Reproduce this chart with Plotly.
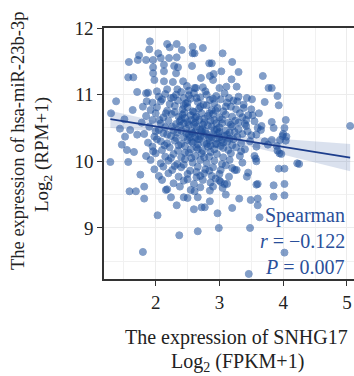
import plotly.graph_objects as go

# ---- data ----
# Core cloud: (SNHG17 log2 FPKM+1, hsa-miR-23b-3p log2 RPM+1)
core_points = [
    (1.88,11.03),(2.05,10.97),(2.15,11.01),(2.28,10.96),(2.40,11.04),(2.52,10.99),(2.60,11.02),(2.70,10.96),(2.78,11.05),(2.95,10.98),(3.08,11.02),(3.15,10.95),
    (1.95,10.88),(2.10,10.93),(2.22,10.86),(2.35,10.91),(2.47,10.87),(2.55,10.94),(2.66,10.89),(2.75,10.85),(2.85,10.92),(2.92,10.87),(3.02,10.93),(3.12,10.88),(3.22,10.91),
    (1.80,10.82),(1.92,10.77),(2.02,10.81),(2.18,10.76),(2.30,10.83),(2.42,10.78),(2.50,10.81),(2.58,10.75),(2.68,10.79),(2.80,10.84),(2.88,10.77),(2.97,10.80),(3.06,10.75),(3.18,10.82),(3.26,10.78),(3.38,10.80),
    (1.85,10.68),(2.00,10.72),(2.12,10.66),(2.25,10.71),(2.36,10.67),(2.45,10.73),(2.55,10.69),(2.62,10.65),(2.72,10.72),(2.82,10.68),(2.90,10.71),(3.00,10.66),(3.10,10.70),(3.20,10.67),(3.32,10.72),(3.45,10.69),
    (1.78,10.58),(1.95,10.62),(2.08,10.57),(2.20,10.61),(2.32,10.56),(2.40,10.63),(2.50,10.59),(2.60,10.55),(2.68,10.62),(2.76,10.58),(2.86,10.61),(2.95,10.57),(3.04,10.63),(3.14,10.58),(3.25,10.61),(3.40,10.56),(3.55,10.60),
    (1.90,10.52),(2.05,10.47),(2.15,10.51),(2.28,10.46),(2.38,10.53),(2.48,10.49),(2.56,10.45),(2.64,10.52),(2.73,10.48),(2.82,10.54),(2.92,10.47),(3.00,10.51),(3.10,10.46),(3.20,10.52),(3.30,10.48),(3.42,10.53),(3.65,10.47),
    (1.82,10.41),(1.98,10.37),(2.12,10.42),(2.24,10.38),(2.34,10.43),(2.44,10.36),(2.52,10.40),(2.62,10.44),(2.70,10.37),(2.80,10.41),(2.88,10.36),(2.98,10.42),(3.08,10.38),(3.16,10.43),(3.28,10.37),(3.36,10.41),(3.50,10.39),
    (1.88,10.28),(2.02,10.33),(2.18,10.27),(2.30,10.31),(2.40,10.26),(2.50,10.32),(2.58,10.28),(2.66,10.33),(2.76,10.27),(2.85,10.31),(2.94,10.26),(3.04,10.32),(3.12,10.29),(3.22,10.33),(3.34,10.27),(3.48,10.30),
    (1.95,10.22),(2.10,10.17),(2.22,10.21),(2.35,10.16),(2.46,10.23),(2.55,10.18),(2.64,10.21),(2.74,10.16),(2.82,10.22),(2.92,10.18),(3.02,10.23),(3.14,10.17),(3.26,10.21),(3.40,10.18),
    (1.85,10.08),(2.00,10.12),(2.15,10.07),(2.28,10.11),(2.40,10.06),(2.52,10.13),(2.62,10.08),(2.72,10.12),(2.84,10.07),(2.96,10.11),(3.06,10.06),(3.18,10.12),(3.32,10.08),
    (1.92,10.02),(2.08,9.97),(2.20,10.01),(2.34,9.96),(2.46,10.03),(2.58,9.98),(2.70,10.02),(2.80,9.97),(2.92,10.01),(3.04,9.96),(3.16,10.02),(3.36,9.98),
    (1.98,9.88),(2.12,9.92),(2.26,9.87),(2.40,9.91),(2.54,9.86),(2.66,9.92),(2.78,9.88),(2.90,9.91),(3.02,9.87),(3.20,9.90),
    (2.05,9.78),(2.20,9.82),(2.36,9.77),(2.50,9.81),(2.64,9.76),(2.76,9.82),(2.88,9.78),(3.00,9.81),(3.15,9.77),
    (2.10,9.72),(2.28,9.67),(2.44,9.71),(2.60,9.66),(2.74,9.72),(2.86,9.68),(3.00,9.71),(3.12,9.66),
    (2.18,9.58),(2.38,9.62),(2.55,9.57),(2.70,9.61),(2.85,9.56),(3.05,9.60),
    (2.46,10.65),(2.58,10.42),(2.66,10.25),(2.74,10.55),(2.84,10.35),(2.92,10.62),(3.00,10.44),(3.06,10.28),
    (2.54,10.36),(2.62,10.58),(2.78,10.45),(2.88,10.52),(2.96,10.34),(2.70,10.48),(2.52,10.55),(3.12,10.40),
    (2.40,10.46),(2.86,10.24),(2.60,10.74),(2.76,10.64),(3.18,10.55),(2.32,10.35),(2.94,10.76),(2.68,10.33),
    (2.26,10.52),(2.44,10.57),(2.64,10.67),(2.84,10.72),(3.04,10.57),(3.24,10.44),(2.36,10.24),(2.56,10.30),
    (2.76,10.38),(2.96,10.48),(3.16,10.34),(2.46,10.13),(2.66,10.18),(2.86,10.14),(3.06,10.20),(2.30,10.74),
    (2.50,10.88),(2.70,10.82),(2.90,10.94),(3.10,10.82),(2.18,10.40),(2.08,10.30),(2.24,10.05),(2.44,9.95),
    (2.64,9.84),(2.84,9.86),(3.10,9.94),(2.56,10.05),(2.76,10.06),(2.96,10.26),(3.20,10.24),(3.30,10.58),
    (3.36,10.66),(2.42,10.70),(2.56,10.62),(2.72,10.44),(2.80,10.26),(3.00,10.36),(2.90,10.41),(2.62,10.36),
    (2.48,10.42),(2.38,10.60),(2.16,10.72),(2.06,10.62),(2.00,10.45),(2.14,10.24),(1.96,10.15),(2.30,9.93),
    (2.50,9.73),(2.70,9.78),(2.94,9.74),(2.34,11.08),(2.52,11.06),(2.80,11.00),(3.00,11.10),(2.44,10.84),
    (2.64,10.95),(3.28,10.90),(3.44,10.45),(3.34,10.15),
]

# Outer, sparser points
outer_points = [
    (1.91,11.80),(2.18,11.76),(2.33,11.76),(2.41,11.67),(2.22,11.71),(1.90,11.68),(2.04,11.62),(1.74,11.59),
    (1.85,11.52),(1.96,11.52),(1.72,11.52),(2.08,11.55),(2.21,11.55),(2.33,11.56),(1.58,11.49),(1.96,11.41),
    (2.13,11.45),(2.29,11.43),(1.96,11.32),(2.13,11.35),(2.32,11.32),(1.57,11.26),(1.65,11.26),(1.98,11.22),
    (2.13,11.20),(2.27,11.19),(2.43,11.20),(2.18,11.08),(1.71,11.04),(1.85,11.02),(2.02,11.05),(2.32,11.00),
    (1.38,10.90),(1.86,10.90),(2.08,10.90),(2.24,10.95),(2.44,10.95),
    (1.30,10.72),(1.29,9.99),(1.57,9.99),(1.47,10.25),(1.52,10.37),(1.44,10.49),(1.60,10.47),(1.64,10.77),
    (1.59,9.55),(1.69,9.55),(1.76,9.80),(1.55,10.17),(1.66,10.14),(1.71,10.40),(1.51,10.63),
    (1.82,9.62),(1.82,9.44),(2.03,9.19),(1.80,8.64),(2.37,8.89),(2.33,9.34),(2.16,9.57),(2.24,9.46),(2.44,9.46),
    (2.66,8.95),(2.99,9.00),(3.48,9.00),(3.46,8.31),(2.97,9.22),(2.72,9.31),(2.77,9.31),(3.31,9.44),
    (3.49,9.42),(3.60,9.44),(3.63,9.16),(3.60,9.34),(2.66,9.46),
    (3.93,9.89),(4.02,9.89),(4.25,9.96),(3.85,9.64),(4.02,9.66),(3.85,9.47),(4.02,9.49),(4.02,8.63),(3.97,10.11),
    (5.05,10.53),(3.91,10.98),(3.93,10.84),(3.82,11.10),(3.82,10.59),(3.85,10.50),(4.04,10.62),(4.00,10.41),
    (3.95,10.32),(4.04,10.31),(3.90,10.23),
    (3.68,11.28),(3.77,11.10),(3.71,10.89),(3.51,10.93),(3.43,10.95),(3.30,10.97),(3.05,11.62),(3.20,11.49),
    (3.30,11.34),(3.19,11.23),(3.27,11.12),(3.11,11.12),(2.74,11.70),(2.58,11.72),(2.58,11.62),(2.84,11.47),
    (2.88,11.47),(2.57,11.43),(2.35,11.41),(3.03,11.35),(2.91,11.31),(2.85,11.28),(2.71,11.25),(2.90,11.22),
    (2.74,11.11),(2.49,11.13),(2.63,11.10),(3.60,10.50),(3.52,10.69),(4.02,10.50),(3.99,10.38),(4.05,10.37),
    (3.91,10.16),(3.94,10.12),(4.22,9.97),(3.71,10.30),(3.58,10.22),(3.58,10.00),(3.55,10.08),(3.27,9.87),
    (3.45,9.83),(3.43,9.77),(3.58,9.65),(2.61,11.62),(2.61,11.10),
    (3.38,10.85),(3.50,10.78),(3.62,10.72),(3.42,10.62),(3.58,10.40),(3.66,10.53),(3.82,10.32),(3.76,10.25),
    (2.50,9.45),(2.85,9.40),(3.10,9.50),(2.60,9.28),(3.20,9.30),
    (3.02,9.69),(3.24,9.87),(3.57,10.04),(3.60,9.66),(2.90,9.62),(3.08,9.66),(2.61,9.55),
]

# Linear fit and its 95% confidence band
fit_x = [1.29, 1.6, 2.0, 2.4, 2.8, 3.2, 3.6, 4.0, 4.5, 5.05]
fit_y = [10.632, 10.585, 10.523, 10.462, 10.400, 10.339, 10.278, 10.216, 10.140, 10.055]
ci_low = [10.50, 10.48, 10.45, 10.42, 10.37, 10.29, 10.20, 10.10, 9.98, 9.85]
ci_high = [10.76, 10.69, 10.60, 10.51, 10.43, 10.39, 10.36, 10.33, 10.30, 10.26]

x_ticks = [2, 3, 4, 5]
y_ticks = [9, 10, 11, 12]
stats_lines = ["Spearman", "<i>r</i> = \u22120.122", "<i>P</i> = 0.007"]

# ---- figure ----
pts = core_points + outer_points
xs = [p[0] for p in pts]
ys = [p[1] for p in pts]

BLUE = "#1d4f9c"
FONT = "Liberation Serif"

fig = go.Figure()
fig.add_trace(go.Scatter(
    x=xs, y=ys, mode="markers",
    marker=dict(size=7, color=BLUE, opacity=0.55, line=dict(width=1, color=BLUE)),
    hoverinfo="skip", showlegend=False))
fig.add_trace(go.Scatter(
    x=fit_x + fit_x[::-1], y=ci_high + ci_low[::-1],
    fill="toself", fillcolor="rgba(35,75,155,0.17)", line=dict(width=0),
    mode="lines", hoverinfo="skip", showlegend=False))
fig.add_trace(go.Scatter(
    x=fit_x, y=fit_y, mode="lines", line=dict(color="#1c3d8c", width=1.7),
    hoverinfo="skip", showlegend=False))

W, H = 354, 376
L, R, T, B = 104, 0, 28, 97
pw, ph = W - L - R, H - T - B

def px(xp):
    return (xp - L) / pw

def py(yp):
    return (H - B - yp) / ph

axis_common = dict(
    showline=True, linecolor="#333333", linewidth=1.5,
    ticks="outside", ticklen=5, tickwidth=1.3, tickcolor="#333333",
    showgrid=True, gridcolor="#ececec", gridwidth=1,
    zeroline=False,
    tickfont=dict(family=FONT, size=19, color="#222222"),
)

fig.update_xaxes(range=[1.19, 5.11], tickvals=x_ticks, mirror=True,
                 minor=dict(dtick=0.5, tick0=0, showgrid=True, gridcolor="#f1f1f1", ticks=""),
                 **axis_common)
fig.update_yaxes(range=[8.234, 12.0], tickvals=y_ticks,
                 minor=dict(dtick=0.5, tick0=0, showgrid=True, gridcolor="#f1f1f1", ticks=""),
                 **axis_common)

ann = []
# stats text
for txt, yp in zip(stats_lines, [215, 241, 267]):
    ann.append(dict(text=txt, x=px(347), y=py(yp), xref="paper", yref="paper",
                    xanchor="right", yanchor="middle", showarrow=False,
                    font=dict(family=FONT, size=20, color="#2a4f9a")))
# x title
ann.append(dict(text="The expression of SNHG17", x=px(236), y=py(337), xref="paper", yref="paper",
                xanchor="center", yanchor="middle", showarrow=False,
                font=dict(family=FONT, size=20, color="#222222")))
ann.append(dict(text="Log<sub>2</sub> (FPKM+1)", x=px(237), y=py(362), xref="paper", yref="paper",
                xanchor="center", yanchor="middle", showarrow=False,
                font=dict(family=FONT, size=20, color="#222222")))
# y title
ann.append(dict(text="The expression of hsa-miR-23b-3p", x=px(18), y=py(141), xref="paper", yref="paper",
                xanchor="center", yanchor="middle", textangle=-90, showarrow=False,
                font=dict(family=FONT, size=18.5, color="#222222")))
ann.append(dict(text="Log<sub>2</sub> (RPM+1)", x=px(43), y=py(155), xref="paper", yref="paper",
                xanchor="center", yanchor="middle", textangle=-90, showarrow=False,
                font=dict(family=FONT, size=19, color="#222222")))

fig.update_layout(
    width=W, height=H,
    margin=dict(l=L, r=R, t=T, b=B),
    paper_bgcolor="white", plot_bgcolor="white",
    annotations=ann, showlegend=False,
)

fig.write_html("out.html", config={"displayModeBar": False})
